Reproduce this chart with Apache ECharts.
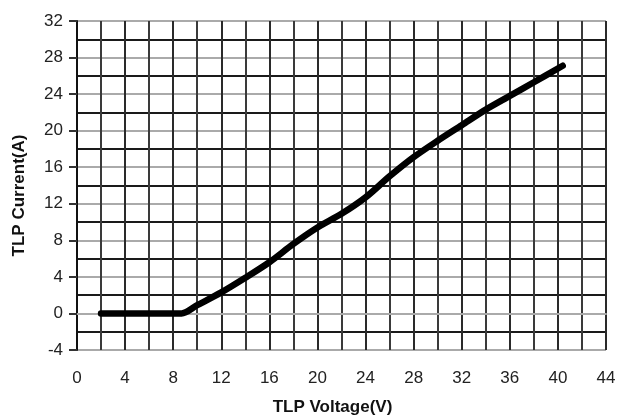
<!DOCTYPE html>
<html>
<head>
<meta charset="utf-8">
<script src="https://cdn.jsdelivr.net/npm/echarts@6/dist/echarts.min.js"></script>
<style>html,body{margin:0;padding:0;background:#fff}#c{width:619px;height:419px}</style>
</head>
<body>
<div id="c"></div>
<script>
var voltage = [2, 4, 6, 8, 8.7, 10, 12, 14, 16, 18, 20, 22, 24, 26, 28, 30, 32, 34, 36, 38, 40.4];
var current = [0, 0, 0, 0, 0, 0.9, 2.3, 3.9, 5.6, 7.6, 9.4, 10.9, 12.7, 15.0, 17.1, 18.9, 20.6, 22.3, 23.8, 25.3, 27.1];
var xTicks = [0, 4, 8, 12, 16, 20, 24, 28, 32, 36, 40, 44];
var yTicks = [-4, 0, 4, 8, 12, 16, 20, 24, 28, 32];

var chart = echarts.init(document.getElementById('c'));
var pts = voltage.map(function (v, i) { return [v, current[i]]; });
var font = 'Liberation Sans, Arial, sans-serif';
chart.setOption({
  animation: false,
  grid: { left: 77, top: 21, right: 13, bottom: 69, containLabel: false, outerBoundsMode: 'none' },
  xAxis: {
    type: 'value', min: xTicks[0], max: xTicks[xTicks.length - 1], interval: 4,
    name: 'TLP Voltage(V)', nameLocation: 'middle', nameGap: 49,
    nameTextStyle: { fontFamily: font, fontSize: 17, fontWeight: 'bold', color: '#111', padding: [0, 18, 0, 0] },
    axisLine: { show: true, lineStyle: { color: '#aaa', width: 2 } },
    axisTick: { show: false },
    axisLabel: { margin: 20, fontFamily: font, fontSize: 17, color: '#222' },
    splitLine: { show: true, lineStyle: { color: '#2a2a2a', width: 2 } },
    minorTick: { show: false, splitNumber: 2 },
    minorSplitLine: { show: true, lineStyle: { color: '#3a3a3a', width: 2 } }
  },
  yAxis: {
    type: 'value', min: yTicks[0], max: yTicks[yTicks.length - 1], interval: 4,
    name: 'TLP Current(A)', nameLocation: 'middle', nameGap: 49,
    nameTextStyle: { fontFamily: font, fontSize: 17, fontWeight: 'bold', color: '#111', padding: [0, 20, 0, 0] },
    axisLine: { show: true, lineStyle: { color: '#111', width: 2 } },
    axisTick: { show: true, length: 8, lineStyle: { color: '#333', width: 2 } },
    axisLabel: { margin: 14, fontFamily: font, fontSize: 17, color: '#222' },
    splitLine: { show: true, lineStyle: { color: '#aaa', width: 2 } },
    minorTick: { show: false, splitNumber: 2 },
    minorSplitLine: { show: true, lineStyle: { color: '#1a1a1a', width: 2 } }
  },
  series: [{
    type: 'line', data: pts, showSymbol: false, smooth: 0.3,
    lineStyle: { color: '#000', width: 6.5, cap: 'round', join: 'round' }
  }]
});
</script>
</body>
</html>
